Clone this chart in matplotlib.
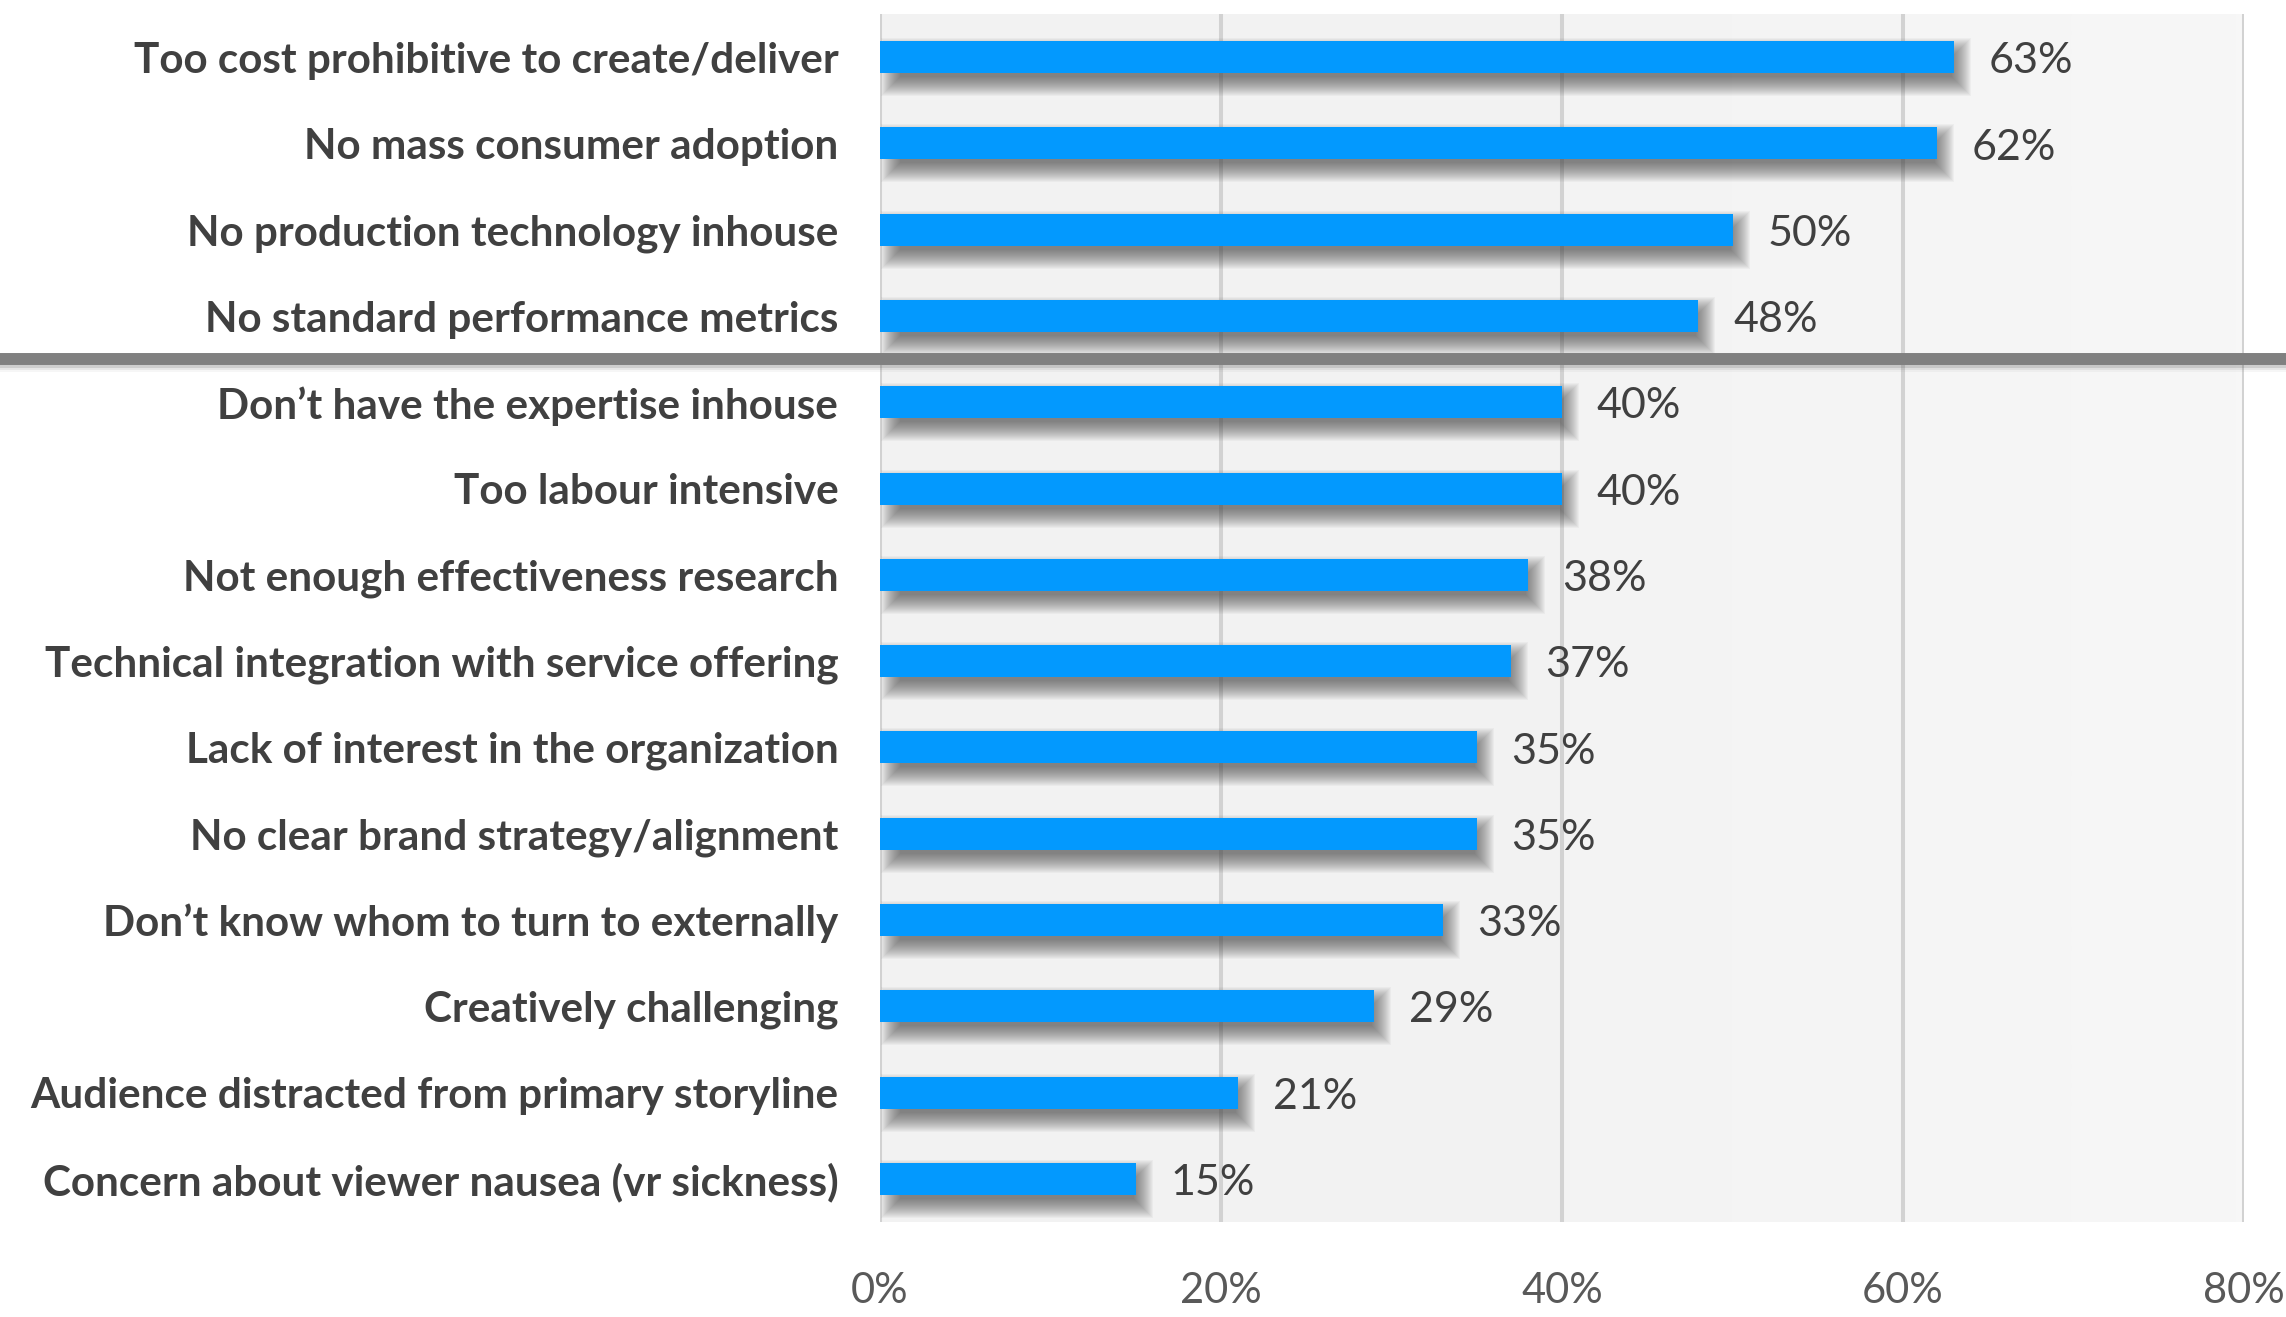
import matplotlib
matplotlib.use("Agg")
import matplotlib.pyplot as plt
import matplotlib.transforms as mtransforms
from matplotlib.patches import Rectangle
from matplotlib.lines import Line2D
from matplotlib.colors import LinearSegmentedColormap
import numpy as np

# Survey results: barriers to adopting VR content
categories = [
    "Too cost prohibitive to create/deliver",
    "No mass consumer adoption",
    "No production technology inhouse",
    "No standard performance metrics",
    "Don\u2019t have the expertise inhouse",
    "Too labour intensive",
    "Not enough effectiveness research",
    "Technical integration with service offering",
    "Lack of interest in the organization",
    "No clear brand strategy/alignment",
    "Don\u2019t know whom to turn to externally",
    "Creatively challenging",
    "Audience distracted from primary storyline",
    "Concern about viewer nausea (vr sickness)",
]
values = [63, 62, 50, 48, 40, 40, 38, 37, 35, 35, 33, 29, 21, 15]
x_ticks = [0, 20, 40, 60, 80]
x_tick_labels = ["0%", "20%", "40%", "60%", "80%"]
divider_after = 4  # top group size separated by the horizontal rule

FAMILY = ["Lato", "DejaVu Sans"]
plt.rcParams["font.family"] = FAMILY

BAR_COLOR = "#0399FE"
TEXT_DARK = "#404040"
TICK_GREY = "#595959"
GRID_GREY = "#d2d2d2"

W, H, DPI = 2286, 1317, 100
fig = plt.figure(figsize=(W / DPI, H / DPI), dpi=DPI)
fig.patch.set_facecolor("white")

ax_left, ax_right = 880 / W, 2244 / W
ax_bottom, ax_top = 1 - 1222 / H, 1 - 14 / H
ax = fig.add_axes([ax_left, ax_bottom, ax_right - ax_left, ax_top - ax_bottom])

n = len(categories)
ypos = np.arange(n)
ax.set_xlim(x_ticks[0], x_ticks[-1])
ax.set_ylim(n - 0.5, -0.5)

# soft light-grey plot background, slightly lighter towards the right
grad = np.linspace(0, 1, 256)[None, :]
bg_cmap = LinearSegmentedColormap.from_list("bg", ["#f2f2f2", "#f3f3f3", "#f7f7f7"])
ax.imshow(grad, cmap=bg_cmap, aspect="auto", extent=[x_ticks[0], x_ticks[-1], n - 0.5, -0.5],
          zorder=0, interpolation="bilinear")

# vertical gridlines
for xv in x_ticks:
    ax.axvline(xv, color=GRID_GREY, lw=2.9, zorder=1)

bar_h = 0.37

# blurred drop shadow under each bar, built from stacked translucent layers
px_to_x = (x_ticks[-1] - x_ticks[0]) / (2244 - 880)
px_to_y = n / (1222 - 14)
shadow_off = mtransforms.ScaledTranslation(4 / DPI, -10 / DPI, fig.dpi_scale_trans)
grows = np.linspace(-6, 13, 20)
for i, v in enumerate(values):
    for g in grows:
        ex = g * px_to_x
        ey = g * px_to_y
        r = Rectangle((10 * px_to_x - ex, i - bar_h / 2 - ey), v + 2 * ex - 10 * px_to_x, bar_h + 2 * ey,
                      facecolor="#404040", edgecolor="none", alpha=0.045,
                      transform=ax.transData + shadow_off, zorder=2)
        ax.add_patch(r)

ax.barh(ypos, values, height=bar_h, color=BAR_COLOR, edgecolor="none", zorder=3)

# value labels
for i, v in enumerate(values):
    ax.annotate(f"{v}%", (v, i), xytext=(25, -3), textcoords="offset points",
                va="center", ha="left", fontsize=31, fontweight="normal",
                color=TEXT_DARK, zorder=4)

ax.set_yticks(ypos)
ax.set_yticklabels(categories, fontsize=27, fontweight="bold", color=TEXT_DARK)
ax.set_xticks(x_ticks)
ax.set_xticklabels(x_tick_labels, fontsize=30, fontweight="normal", color=TICK_GREY)
ax.tick_params(axis="y", length=0, pad=30)
ax.tick_params(axis="x", length=0, pad=36)
for sp in ax.spines.values():
    sp.set_visible(False)

# fit the category labels to the space left of the plot
fig.canvas.draw()
renderer = fig.canvas.get_renderer()
widest = max(t.get_window_extent(renderer).width for t in ax.get_yticklabels())
target = 838 - 32
size = 27 * target / widest
for t in ax.get_yticklabels():
    t.set_fontsize(size)

# horizontal divider running across the full figure width
blend = mtransforms.blended_transform_factory(fig.transFigure, ax.transData)
y_div = divider_after - 0.5
for dy, a in [(3, 0.18), (5, 0.10), (7, 0.05)]:
    sh = Line2D([0, 1], [y_div, y_div], color="#606060", lw=8.6, alpha=a,
                transform=blend + mtransforms.ScaledTranslation(0, -dy / DPI, fig.dpi_scale_trans),
                clip_on=False, zorder=5)
    fig.add_artist(sh)
fig.add_artist(Line2D([0, 1], [y_div, y_div], color="#808080", lw=8.6,
                      transform=blend, clip_on=False, zorder=6))

fig.savefig("out.png", dpi=DPI, facecolor="white")
